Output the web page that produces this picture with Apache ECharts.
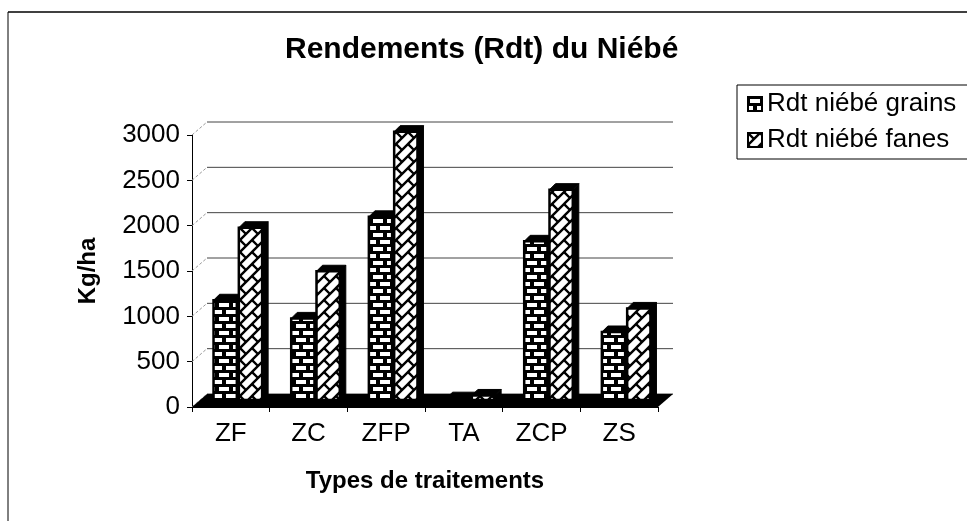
<!DOCTYPE html>
<html>
<head>
<meta charset="utf-8">
<script src="https://cdn.jsdelivr.net/npm/echarts@6/dist/echarts.min.js"></script>
<style>
  html, body { margin: 0; padding: 0; background: #fff; }
  #chart { width: 967px; height: 521px; }
</style>
</head>
<body>
<div id="chart"></div>
<script>
// data
var categories = ['ZF', 'ZC', 'ZFP', 'TA', 'ZCP', 'ZS']
var grains = [1100, 900, 2020, 20, 1750, 750]
var fanes = [1900, 1420, 2960, 50, 2320, 1010]
var yTicks = [0, 500, 1000, 1500, 2000, 2500, 3000]
var seriesNames = ['Rdt niébé grains', 'Rdt niébé fanes']

var font = '"Liberation Sans", Arial, sans-serif'
// 3D look: back wall offset and bar depth
var wallDx = 15
var wallDy = -13
var shiftX = 7
var shiftY = -7
var depthX = 6
var depthY = -6

function makeBrick () {
  var c = document.createElement('canvas')
  c.width = 14
  c.height = 14
  var ctx = c.getContext('2d')
  ctx.fillStyle = '#000'
  ctx.fillRect(0, 0, 14, 14)
  ctx.fillStyle = '#fff'
  ctx.fillRect(2, 2, 10, 4)
  ctx.fillRect(0, 9, 5, 4)
  ctx.fillRect(9, 9, 5, 4)
  return c
}

function makeHatch () {
  var c = document.createElement('canvas')
  c.width = 12
  c.height = 12
  var ctx = c.getContext('2d')
  ctx.fillStyle = '#fff'
  ctx.fillRect(0, 0, 12, 12)
  ctx.strokeStyle = '#000'
  ctx.lineWidth = 2.4
  ctx.beginPath()
  ctx.moveTo(-2, 14)
  ctx.lineTo(14, -2)
  ctx.moveTo(-2, 2)
  ctx.lineTo(2, -2)
  ctx.moveTo(10, 14)
  ctx.lineTo(14, 10)
  ctx.moveTo(0, 0)
  ctx.lineTo(6, 6)
  ctx.stroke()
  return c
}

var brick = { image: makeBrick(), repeat: 'repeat' }
var hatch = { image: makeHatch(), repeat: 'repeat' }

function barRender (slot, pattern) {
  return function (params, api) {
    var idx = api.value(0)
    var val = api.value(1)
    var base = api.coord([idx, 0])
    var top = api.coord([idx, val])
    var band = api.size([1, 0])[0]
    var w = band * 0.3
    var left = base[0] + shiftX - w - 1 + slot * (w + 2)
    var by = base[1] + shiftY
    var ty = top[1] + shiftY
    return {
      type: 'group',
      children: [
        {
          type: 'polygon',
          shape: { points: [[left + w, ty], [left + w + depthX, ty + depthY], [left + w + depthX, by + depthY], [left + w, by]] },
          style: { fill: '#000', stroke: '#000', lineWidth: 1 }
        },
        {
          type: 'polygon',
          shape: { points: [[left, ty], [left + depthX, ty + depthY], [left + w + depthX, ty + depthY], [left + w, ty]] },
          style: { fill: '#000', stroke: '#000', lineWidth: 1 }
        },
        {
          type: 'rect',
          shape: { x: left, y: ty, width: w, height: by - ty },
          style: { fill: pattern, stroke: '#000', lineWidth: 2.5 }
        }
      ]
    }
  }
}

function wallRender (params, api) {
  var cs = params.coordSys
  var children = []
  yTicks.forEach(function (t) {
    var y = api.coord([0, t])[1]
    children.push({
      type: 'line',
      shape: { x1: cs.x, y1: y, x2: cs.x + wallDx, y2: y + wallDy },
      style: { stroke: '#999', lineWidth: 1, lineDash: [3, 2] }
    })
    children.push({
      type: 'line',
      shape: { x1: cs.x + wallDx, y1: y + wallDy, x2: cs.x + cs.width + wallDx, y2: y + wallDy },
      style: { stroke: '#444', lineWidth: 1 }
    })
  })
  var fy = cs.y + cs.height
  children.push({
    type: 'polygon',
    shape: { points: [[cs.x, fy], [cs.x + wallDx, fy + wallDy], [cs.x + cs.width + wallDx, fy + wallDy], [cs.x + cs.width, fy]] },
    style: { fill: '#000' }
  })
  return { type: 'group', children: children }
}

var chart = echarts.init(document.getElementById('chart'))
var option = {
  backgroundColor: '#fff',
  animation: false,
  graphic: [
    { type: 'line', shape: { x1: 8, y1: 12, x2: 967, y2: 12 }, style: { stroke: '#000', lineWidth: 1.5 } },
    { type: 'line', shape: { x1: 8, y1: 12, x2: 8, y2: 521 }, style: { stroke: '#000', lineWidth: 1 } }
  ],
  title: {
    text: 'Rendements (Rdt) du Niébé',
    left: 280,
    top: 30,
    textStyle: { fontFamily: font, fontSize: 30, fontWeight: 'bold', color: '#000' }
  },
  legend: {
    data: seriesNames,
    orient: 'vertical',
    left: 737,
    top: 85,
    padding: [6, 40, 6, 10],
    itemGap: 10,
    itemWidth: 14,
    itemHeight: 14,
    icon: 'rect',
    borderColor: '#000',
    borderWidth: 1,
    backgroundColor: '#fff',
    textStyle: { fontFamily: font, fontSize: 26, color: '#000' }
  },
  grid: { left: 192, top: 135, width: 466, height: 272 },
  xAxis: {
    type: 'category',
    data: categories,
    name: 'Types de traitements',
    nameLocation: 'middle',
    nameGap: 62,
    nameTextStyle: { fontFamily: font, fontSize: 24, fontWeight: 'bold', color: '#000' },
    axisLine: { lineStyle: { color: '#000', width: 1 } },
    axisTick: { show: true, length: 5, lineStyle: { color: '#000' } },
    axisLabel: { margin: 14, fontFamily: font, fontSize: 26, color: '#000' }
  },
  yAxis: {
    type: 'value',
    min: 0,
    max: 3000,
    interval: 500,
    name: 'Kg/ha',
    nameLocation: 'middle',
    nameRotate: 90,
    nameGap: 92,
    nameTextStyle: { fontFamily: font, fontSize: 24, fontWeight: 'bold', color: '#000' },
    axisLine: { show: true, lineStyle: { color: '#000', width: 1 } },
    axisTick: { show: true, length: 5, lineStyle: { color: '#000' } },
    splitLine: { show: false },
    axisLabel: {
      margin: 12,
      fontFamily: font,
      fontSize: 26,
      color: '#000',
      formatter: function (v) { return String(v) }
    }
  },
  series: [
    {
      name: 'wall',
      type: 'custom',
      renderItem: wallRender,
      data: [[0, 0]],
      silent: true,
      z: 1
    },
    {
      name: seriesNames[0],
      type: 'custom',
      renderItem: barRender(0, brick),
      itemStyle: { color: brick, borderColor: '#000', borderWidth: 2 },
      data: grains.map(function (v, i) { return [i, v] }),
      z: 2
    },
    {
      name: seriesNames[1],
      type: 'custom',
      renderItem: barRender(1, hatch),
      itemStyle: { color: hatch, borderColor: '#000', borderWidth: 2 },
      data: fanes.map(function (v, i) { return [i, v] }),
      z: 3
    }
  ]
}
chart.setOption(option)
</script>
</body>
</html>
